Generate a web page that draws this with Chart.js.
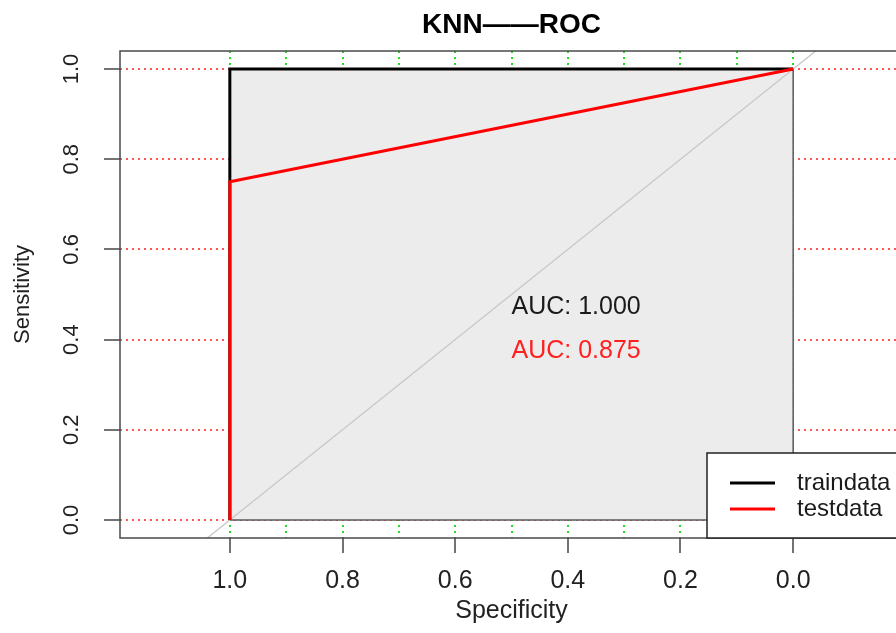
<!DOCTYPE html>
<html>
<head>
<meta charset="utf-8">
<script src="https://cdn.jsdelivr.net/npm/chart.js@4.4.0/dist/chart.umd.min.js"></script>
<style>
  html, body { margin: 0; padding: 0; background: #fff; overflow: hidden; }
  canvas { display: block; }
</style>
</head>
<body>
<canvas id="rocChart" width="920" height="633"></canvas>
<script>
// ROC points (specificity runs 1 -> 0 on the axis)
const trainSpec = [1, 1, 0];
const trainSens = [0, 1, 1];
const testSpec = [1, 1, 0];
const testSens = [0, 0.75, 1];
// chance line, clipped to the plot box
const diagSpec = [1.2, -0.2];
const diagSens = [-0.2, 1.2];
const aucTrain = '1.000';
const aucTest = '0.875';
const seriesNames = ['traindata', 'testdata'];
const specGrid = [0, 0.1, 0.2, 0.3, 0.4, 0.5, 0.6, 0.7, 0.8, 0.9, 1.0];
const sensTicks = [0, 0.2, 0.4, 0.6, 0.8, 1.0];

const FONT = '"Liberation Sans", Arial, sans-serif';
const toPts = (xs, ys) => xs.map((v, i) => ({ x: v, y: ys[i] }));

// grey area under the train curve, closed back along sensitivity 0
const polySpec = trainSpec.concat([0, trainSpec[0]]);
const polySens = trainSens.concat([0, trainSens[0]]);

const rocExtras = {
    id: 'rocExtras',
    afterDatasetsDraw(chart) {
        const { ctx, chartArea: a, scales: { x, y } } = chart;
        ctx.save();
        // plot frame
        ctx.strokeStyle = '#4a4a4a';
        ctx.lineWidth = 1.5;
        ctx.strokeRect(a.left, a.top, a.right - a.left, a.bottom - a.top);

        // AUC text
        ctx.font = '25px ' + FONT;
        ctx.textAlign = 'left';
        ctx.textBaseline = 'middle';
        ctx.fillStyle = '#1a1a1a';
        ctx.fillText('AUC: ' + aucTrain, x.getPixelForValue(0.5), y.getPixelForValue(0.473));
        ctx.fillStyle = '#ff2020';
        ctx.fillText('AUC: ' + aucTest, x.getPixelForValue(0.5), y.getPixelForValue(0.374));

        // legend, bottom right of the plot box
        const lw = 196, lh = 85;
        const lx = a.right - lw, ly = a.bottom - lh;
        ctx.fillStyle = '#fff';
        ctx.fillRect(lx, ly, lw, lh);
        ctx.strokeStyle = '#222';
        ctx.lineWidth = 1.5;
        ctx.strokeRect(lx, ly, lw, lh);
        ctx.font = '24px ' + FONT;
        seriesNames.forEach((name, i) => {
            const ds = chart.data.datasets.find(d => d.label === name);
            const rowY = ly + 30 + i * 26;
            ctx.strokeStyle = ds.borderColor;
            ctx.lineWidth = 3;
            ctx.beginPath();
            ctx.moveTo(lx + 23, rowY);
            ctx.lineTo(lx + 68, rowY);
            ctx.stroke();
            ctx.fillStyle = '#1a1a1a';
            ctx.fillText(name, lx + 90, rowY);
        });
        ctx.restore();
    }
};

const ctx = document.getElementById('rocChart').getContext('2d');
new Chart(ctx, {
    type: 'scatter',
    data: {
        datasets: [
            {
                label: seriesNames[0],
                data: toPts(trainSpec, trainSens),
                showLine: true,
                borderColor: '#000000',
                borderWidth: 3,
                pointRadius: 0,
                tension: 0,
                order: 1
            },
            {
                label: seriesNames[1],
                data: toPts(testSpec, testSens),
                showLine: true,
                borderColor: '#ff0000',
                borderWidth: 3,
                pointRadius: 0,
                tension: 0,
                order: 0
            },
            {
                label: 'chance',
                data: toPts(diagSpec, diagSens),
                showLine: true,
                borderColor: '#c8c8c8',
                borderWidth: 1.3,
                pointRadius: 0,
                order: 2
            },
            {
                label: 'auc polygon',
                data: toPts(polySpec, polySens),
                showLine: true,
                borderColor: '#5a5a5a',
                borderWidth: 1.5,
                backgroundColor: '#ececec',
                fill: 'shape',
                pointRadius: 0,
                tension: 0,
                order: 3
            }
        ]
    },
    options: {
        responsive: false,
        animation: false,
        devicePixelRatio: 1,
        layout: { padding: { left: 0, right: 17, top: 0, bottom: 0 } },
        scales: {
            x: {
                type: 'linear',
                reverse: true,
                min: -0.195,
                max: 1.195,
                afterBuildTicks: (scale) => { scale.ticks = specGrid.map(v => ({ value: v })); },
                afterFit: (scale) => { scale.height = 95; },
                border: { display: false, dash: [2, 4] },
                grid: {
                    color: '#22dd22',
                    lineWidth: 2,
                    tickLength: 15,
                    tickWidth: 1.5,
                    tickBorderDash: [],
                    tickColor: (c) => (c.tick && c.tick.label ? '#444' : 'rgba(0,0,0,0)')
                },
                ticks: {
                    autoSkip: false,
                    maxRotation: 0,
                    padding: 13,
                    color: '#222',
                    font: { family: FONT, size: 25 },
                    callback: (v) => (Math.round(v * 10) % 2 === 0 ? v.toFixed(1) : '')
                },
                title: {
                    display: true,
                    text: 'Specificity',
                    color: '#222',
                    font: { family: FONT, size: 25 },
                    padding: { top: 0, bottom: 7 }
                }
            },
            y: {
                type: 'linear',
                min: -0.04,
                max: 1.04,
                afterBuildTicks: (scale) => { scale.ticks = sensTicks.map(v => ({ value: v })); },
                afterFit: (scale) => { scale.width = 120; },
                border: { display: false, dash: [2, 4] },
                grid: {
                    color: '#ff5555',
                    lineWidth: 2,
                    tickLength: 16,
                    tickWidth: 1.5,
                    tickBorderDash: [],
                    tickColor: '#444'
                },
                ticks: {
                    minRotation: 90,
                    maxRotation: 90,
                    crossAlign: 'center',
                    padding: 17,
                    color: '#222',
                    font: { family: FONT, size: 22 },
                    callback: (v) => v.toFixed(1)
                },
                title: {
                    display: true,
                    text: 'Sensitivity',
                    color: '#222',
                    font: { family: FONT, size: 22 },
                    padding: { top: 10, bottom: 0 }
                }
            }
        },
        plugins: {
            legend: { display: false },
            tooltip: { enabled: false },
            title: {
                display: true,
                fullSize: false,
                text: 'KNN——ROC',
                color: '#000',
                font: { family: FONT, size: 28, weight: 'bold' },
                padding: { top: 8, bottom: 9.4 }
            }
        }
    },
    plugins: [rocExtras]
});
</script>
</body>
</html>
